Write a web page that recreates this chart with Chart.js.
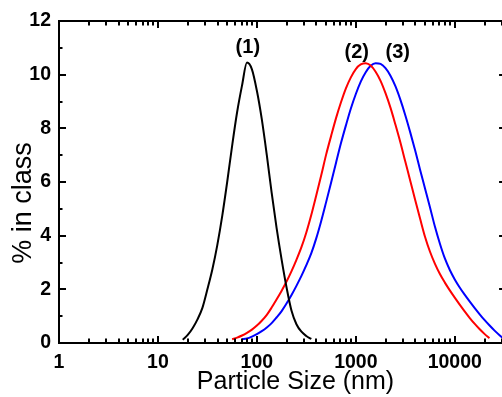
<!DOCTYPE html>
<html>
<head>
<meta charset="utf-8">
<script src="https://cdn.jsdelivr.net/npm/chart.js@4/dist/chart.umd.min.js"></script>
<style>
html,body{margin:0;padding:0;background:#fff;overflow:hidden;}
canvas{display:block;}
</style>
</head>
<body>
<canvas id="psd" width="510" height="397"></canvas>
<script>
// particle size bins (nm)
const sizes = [17.8, 20.0, 22.4, 25.1, 28.2, 31.6, 35.5, 39.8, 44.7, 50.1, 56.2, 63.1, 70.8, 79.4, 89.1,
  100, 112, 126, 141, 158, 178, 200, 224, 251, 282, 316, 355, 398, 447, 501, 562, 631, 708, 794, 891,
  1000, 1122, 1259, 1413, 1585, 1778, 1995, 2239, 2512, 2818, 3162, 3548, 3981, 4467, 5012, 5623, 6310, 7079, 7943, 8913,
  10000, 11220, 12589, 14125, 15849, 17783, 19953, 22387, 25119, 28184, 31623];

// % in class
const sample1 = [0.12, 0.3, 0.55, 0.88, 1.32, 2.0, 2.75, 3.65, 4.75, 6.0, 7.35, 8.6, 9.6, 10.45, 10.2,
  9.4, 8.35, 7.0, 5.6, 4.3, 3.1, 2.05, 1.2, 0.7, 0.42, 0.26, 0.15,
  null, null, null, null, null, null, null, null, null, null, null, null, null, null, null, null, null, null, null,
  null, null, null, null, null, null, null, null, null, null, null, null, null, null, null, null, null, null, null, null];

const sample2 = [null, null, null, null, null, null, null, null, null, null,
  0.14, 0.2, 0.28, 0.38, 0.5, 0.65, 0.83, 1.05, 1.32, 1.62, 1.95, 2.3, 2.68, 3.1, 3.57, 4.12, 4.78, 5.5, 6.25,
  7.02, 7.71, 8.38, 8.97, 9.49, 9.9, 10.21, 10.38, 10.43, 10.34, 10.11, 9.77, 9.31, 8.77, 8.14, 7.48, 6.76, 6.05,
  5.33, 4.63, 3.95, 3.4, 2.95, 2.57, 2.25, 1.96, 1.69, 1.43, 1.18, 0.94, 0.72, 0.52, 0.34, 0.18,
  null, null, null];

const sample3 = [null, null, null, null, null, null, null, null, null, null, null, null,
  0.14, 0.17, 0.24, 0.33, 0.44, 0.58, 0.74, 0.95, 1.19, 1.48, 1.79, 2.13, 2.5, 2.9, 3.35, 3.9, 4.55, 5.25,
  5.97, 6.72, 7.45, 8.11, 8.74, 9.28, 9.74, 10.09, 10.33, 10.43, 10.40, 10.24, 9.96, 9.57, 9.07, 8.49, 7.85, 7.17,
  6.45, 5.75, 5.05, 4.33, 3.7, 3.15, 2.72, 2.37, 2.07, 1.8, 1.55, 1.31, 1.08, 0.86, 0.66, 0.47, 0.3, 0.15];

const xLabels = [1, 10, 100, 1000, 10000];
const yLabels = [0, 2, 4, 6, 8, 10, 12];

// peak labels: [text, size nm, % in class]
const peakNames = ["(1)", "(2)", "(3)"];
const peakSize = [81, 1023, 2655];
const peakLevel = [10.79, 10.61, 10.61];

const FONT = "'Liberation Sans', Arial, sans-serif";

function points(vals){
  return sizes.map((s, i) => ({x: s, y: vals[i]})).filter(p => p.y !== null);
}

// all decade sub-ticks 1..9 x 10^n
let xTicks = [];
xLabels.forEach(d => {
  for (let k = 1; k <= 9; k++) xTicks.push(k * d);
});

const frame = {
  id: "frame",
  afterDraw(chart){
    const ctx = chart.ctx;
    const a = chart.chartArea;
    const x = chart.scales.x, y = chart.scales.y;
    ctx.save();
    ctx.strokeStyle = "#000";
    ctx.lineWidth = 2;
    ctx.strokeRect(a.left, a.top, a.right - a.left, a.bottom - a.top);

    ctx.beginPath();
    xTicks.forEach(v => {
      if (v > x.max) return;
      const px = Math.round(x.getPixelForValue(v));
      const len = xLabels.includes(v) ? 7 : 4.5;
      ctx.moveTo(px, a.bottom); ctx.lineTo(px, a.bottom - len);
      ctx.moveTo(px, a.top); ctx.lineTo(px, a.top + len);
    });
    for (let v = 0; v <= 12; v++) {
      const py = Math.round(y.getPixelForValue(v));
      const len = v % 2 === 0 ? 7 : 3.5;
      ctx.moveTo(a.left, py); ctx.lineTo(a.left + len, py);
      ctx.moveTo(a.right, py); ctx.lineTo(a.right - len, py);
    }
    ctx.stroke();

    ctx.fillStyle = "#000";
    ctx.font = "bold 20px " + FONT;
    ctx.textAlign = "center";
    ctx.textBaseline = "alphabetic";
    peakNames.forEach((t, i) => {
      ctx.fillText(t, x.getPixelForValue(peakSize[i]), y.getPixelForValue(peakLevel[i]));
    });

    ctx.font = "25px " + FONT;
    ctx.fillText("Particle Size (nm)", 295.5, 389);

    ctx.translate(31, 203);
    ctx.rotate(-Math.PI / 2);
    ctx.font = "27px " + FONT;
    ctx.fillText("% in class", 0, 0);
    ctx.restore();
  }
};

new Chart(document.getElementById("psd"), {
  type: "line",
  data: {
    datasets: [
      {label: "(1)", data: points(sample1), borderColor: "#000000"},
      {label: "(2)", data: points(sample2), borderColor: "#ff0000"},
      {label: "(3)", data: points(sample3), borderColor: "#0000ff"}
    ]
  },
  options: {
    responsive: false,
    animation: false,
    layout: {padding: {top: 21, right: 3, left: 0, bottom: 0}},
    elements: {
      line: {borderWidth: 2, cubicInterpolationMode: "monotone", fill: false},
      point: {radius: 0}
    },
    plugins: {legend: {display: false}, tooltip: {enabled: false}},
    scales: {
      x: {
        type: "logarithmic",
        min: 1,
        max: 33000,
        grid: {display: false, drawTicks: false},
        border: {display: false},
        afterBuildTicks(axis){
          axis.ticks = xTicks.filter(v => v <= axis.max).map(v => ({value: v}));
        },
        afterFit(axis){ axis.height = 54; },
        ticks: {
          autoSkip: false,
          maxRotation: 0,
          padding: 8,
          color: "#000",
          font: {family: FONT, size: 19.5, weight: "bold"},
          callback: v => xLabels.includes(v) ? String(v) : ""
        }
      },
      y: {
        min: 0,
        max: 12,
        grid: {display: false, drawTicks: false},
        border: {display: false},
        afterBuildTicks(axis){
          axis.ticks = yLabels.map(v => ({value: v}));
        },
        afterFit(axis){ axis.width = 59; },
        ticks: {
          padding: 8,
          color: "#000",
          font: {family: FONT, size: 19.5, weight: "bold"}
        }
      }
    }
  },
  plugins: [frame]
});
</script>
</body>
</html>
